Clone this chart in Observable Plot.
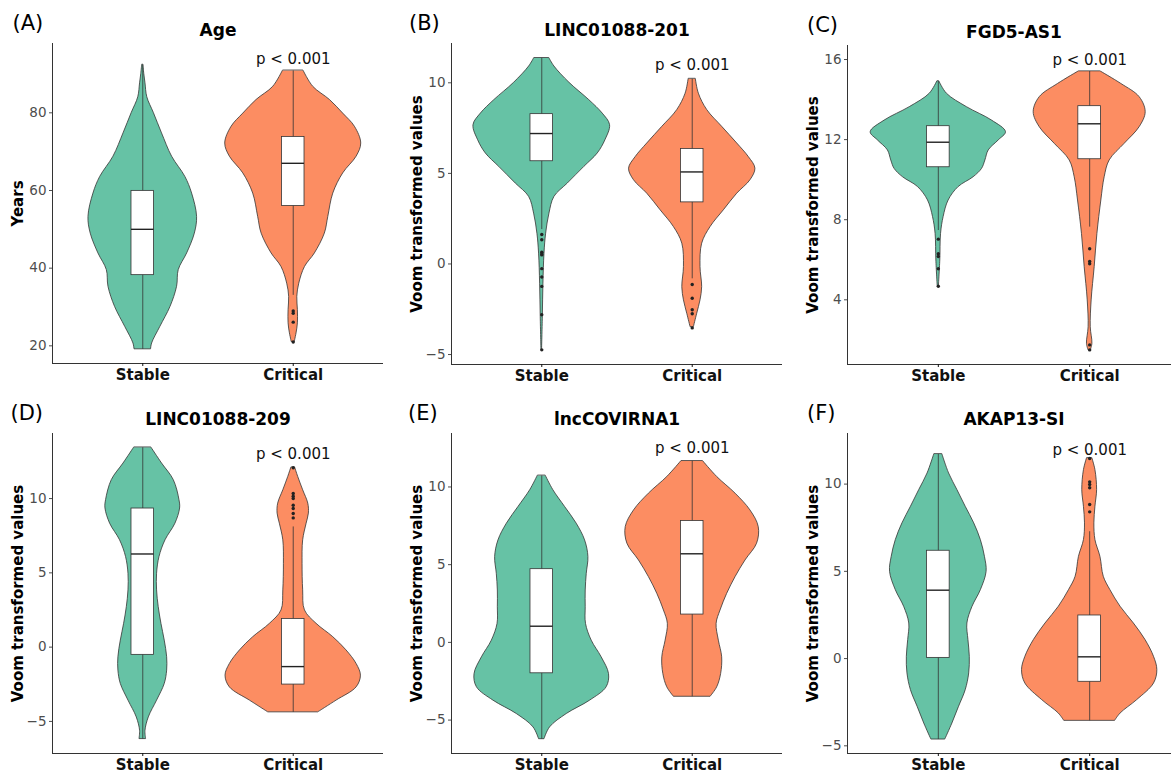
<!DOCTYPE html>
<html><head><meta charset="utf-8">
<script src="https://cdn.jsdelivr.net/npm/d3@7"></script>
<script src="https://cdn.jsdelivr.net/npm/@observablehq/plot@0.6"></script>
<style>
html,body{margin:0;padding:0;background:#fff;overflow:hidden;}
#wrap{position:relative;width:1171px;height:774px;overflow:hidden;background:#fff;}
.panel{position:absolute;}
.panel svg{max-width:none !important;}
</style></head><body><div id="wrap"></div>
<script>
const groups = ["Stable", "Critical"];
const groupColors = ["#66C2A5", "#FC8D62"];
const panelLetters = ["(A)", "(B)", "(C)", "(D)", "(E)", "(F)"];
const panelTitles = ["Age", "LINC01088-201", "FGD5-AS1", "LINC01088-209", "lncCOVIRNA1", "AKAP13-SI"];
const yTitles = ["Years", "Voom transformed values", "Voom transformed values", "Voom transformed values", "Voom transformed values", "Voom transformed values"];
const yTicks = [[20, 40, 60, 80], [-5, 0, 5, 10], [4, 8, 12, 16], [-5, 0, 5, 10], [-5, 0, 5, 10], [-5, 0, 5, 10]];
const yDomains = [[15.45, 97.85], [-5.55, 12.17], [0.77, 16.7], [-7.16, 14.38], [-7.15, 13.44], [-5.44, 12.9]];
const pLabel = "p < 0.001";
const pLabelY = [93.7, 10.98, 15.95, 12.97, 12.47, 11.95];

// Violin profiles: [value, half-width in category units]
const violinA_Stable = [[92.3,0.004],[90,0.01],[87.6,0.018],[84,0.03],[80,0.073],[74.7,0.128],[68.7,0.195],[63.5,0.283],[59.2,0.328],[53.2,0.361],[48.9,0.346],[43.8,0.295],[39.5,0.239],[35.2,0.228],[30,0.184],[24.9,0.117],[20.6,0.062],[19.1,0.055]];
const violinA_Critical = [[90.8,0.069],[86.7,0.133],[83.3,0.244],[79.8,0.332],[76.4,0.41],[72.1,0.452],[68.7,0.421],[64.4,0.332],[59.2,0.266],[53.2,0.233],[48.9,0.21],[43.8,0.144],[40.3,0.078],[36,0.04],[32.6,0.027],[29.2,0.031],[25.8,0.031],[23.2,0.022],[21.5,0.013],[21,0.011]];
const violinB_Stable = [[11.35,0.051],[10.9,0.084],[10,0.184],[9.04,0.316],[8.3,0.405],[7.66,0.454],[6.83,0.423],[6.1,0.372],[5.36,0.283],[4.44,0.173],[3.7,0.084],[2.78,0.051],[1.67,0.029],[0.57,0.018],[-1.09,0.011],[-2.94,0.007],[-4.74,0.002]];
const violinB_Critical = [[10.2,0.024],[9.4,0.044],[8.49,0.1],[7.57,0.199],[6.65,0.299],[5.9,0.376],[5.26,0.42],[4.62,0.387],[3.88,0.299],[2.96,0.21],[2.04,0.122],[1.12,0.066],[-0.17,0.055],[-1.28,0.066],[-2.01,0.055],[-2.75,0.033],[-3.49,0.011]];
const violinC_Stable = [[14.9,0.007],[14.29,0.057],[13.62,0.189],[12.95,0.355],[12.37,0.447],[11.96,0.399],[11.46,0.333],[10.96,0.311],[10.54,0.289],[10.12,0.233],[9.63,0.134],[8.96,0.068],[8.13,0.035],[7.29,0.018],[5.96,0.013],[4.68,0.004]];
const violinC_Critical = [[15.4,0.073],[14.78,0.209],[14.12,0.33],[13.37,0.37],[12.62,0.33],[11.79,0.231],[10.96,0.132],[10.12,0.099],[8.96,0.077],[7.29,0.051],[5.63,0.033],[3.97,0.013],[2.63,0.007],[1.8,0.018],[1.47,0.007]];
const violinD_Stable = [[13.42,0.058],[12.36,0.128],[11.24,0.206],[9.89,0.244],[9.33,0.248],[8.31,0.217],[7.19,0.151],[6.06,0.111],[4.94,0.095],[3.82,0.095],[2.69,0.106],[1.57,0.124],[0.44,0.146],[-0.68,0.162],[-1.58,0.162],[-2.48,0.146],[-3.6,0.095],[-4.73,0.04],[-5.63,0.018],[-6.19,0.022]];
const violinD_Critical = [[12.07,0.013],[11.46,0.033],[10.56,0.066],[9.66,0.1],[8.99,0.104],[8.31,0.089],[7.19,0.066],[5.61,0.062],[3.82,0.066],[2.47,0.078],[1.57,0.155],[0.67,0.266],[-0.22,0.354],[-1.13,0.421],[-1.92,0.45],[-2.71,0.421],[-3.6,0.288],[-4.39,0.166]];
const violinE_Stable = [[10.71,0.027],[9.79,0.077],[8.71,0.155],[7.64,0.232],[6.56,0.288],[5.49,0.31],[4.41,0.299],[3.34,0.292],[2.26,0.292],[1.19,0.294],[0.11,0.332],[-0.96,0.398],[-2.04,0.447],[-2.89,0.431],[-3.75,0.321],[-4.61,0.166],[-5.47,0.055],[-6.23,0.018]];
const violinE_Critical = [[11.65,0.073],[10.64,0.166],[9.57,0.288],[8.49,0.387],[7.42,0.442],[6.35,0.431],[5.27,0.354],[4.2,0.288],[3.12,0.232],[2.05,0.188],[1.19,0.162],[0.11,0.177],[-0.96,0.199],[-2.04,0.192],[-2.89,0.166],[-3.5,0.122]];
const violinF_Stable = [[11.7,0.027],[10.61,0.071],[9.66,0.126],[8.7,0.181],[7.75,0.237],[6.79,0.281],[5.83,0.308],[4.97,0.319],[3.92,0.281],[2.97,0.226],[2.01,0.192],[1.06,0.199],[0.1,0.208],[-0.85,0.204],[-1.81,0.181],[-2.76,0.137],[-3.72,0.093],[-4.64,0.046]];
const violinF_Critical = [[11.47,0.018],[10.8,0.038],[9.66,0.049],[8.7,0.038],[7.75,0.031],[6.79,0.038],[5.83,0.071],[4.69,0.093],[3.92,0.137],[2.97,0.204],[2.01,0.292],[1.06,0.369],[0.1,0.425],[-0.66,0.447],[-1.43,0.425],[-2.38,0.314],[-3.15,0.204],[-3.57,0.168]];

// Box stats: [lower whisker, Q1, median, Q3, upper whisker]
const boxA_Stable = [19.1, 38.2, 50.0, 59.9, 92.3];
const boxA_Critical = [33.0, 56.0, 67.0, 73.8, 90.8];
const boxB_Stable = [1.9, 5.67, 7.2, 8.27, 11.35];
const boxB_Critical = [-0.82, 3.40, 5.08, 6.35, 10.2];
const boxC_Stable = [7.46, 10.62, 11.87, 12.67, 14.9];
const boxC_Critical = [7.63, 11.02, 12.79, 13.67, 15.4];
const boxD_Stable = [-6.19, -0.52, 6.27, 9.33, 13.42];
const boxD_Critical = [-4.39, -2.52, -1.31, 1.9, 8.09];
const boxE_Stable = [-6.23, -1.99, 1.04, 4.71, 10.71];
const boxE_Critical = [-3.5, 1.79, 5.7, 7.81, 11.65];
const boxF_Stable = [-4.64, 0.04, 3.92, 6.18, 11.7];
const boxF_Critical = [-3.57, -1.33, 0.1, 2.47, 7.27];

// Outliers
const outA_Stable = [];
const outA_Critical = [29.0, 28.4, 26.1, 21.0];
const outB_Stable = [1.63, 1.34, 0.65, 0.55, 0.5, -0.26, -0.72, -1.24, -2.8, -4.74];
const outB_Critical = [-1.13, -1.89, -2.53, -2.75, -3.53];
const outC_Stable = [7.03, 6.3, 6.16, 5.55, 4.68];
const outC_Critical = [6.55, 5.91, 5.8, 1.75, 1.5];
const outD_Stable = [];
const outD_Critical = [12.07, 10.34, 10.16, 10.0, 9.55, 9.33, 8.99, 8.7];
const outE_Stable = [];
const outE_Critical = [];
const outF_Stable = [];
const outF_Critical = [11.47, 10.13, 9.98, 9.79, 8.83, 8.41];

const violins = [[violinA_Stable, violinA_Critical],[violinB_Stable, violinB_Critical],[violinC_Stable, violinC_Critical],[violinD_Stable, violinD_Critical],[violinE_Stable, violinE_Critical],[violinF_Stable, violinF_Critical]];
const boxes = [[boxA_Stable, boxA_Critical],[boxB_Stable, boxB_Critical],[boxC_Stable, boxC_Critical],[boxD_Stable, boxD_Critical],[boxE_Stable, boxE_Critical],[boxF_Stable, boxF_Critical]];
const outliers = [[outA_Stable, outA_Critical],[outB_Stable, outB_Critical],[outC_Stable, outC_Critical],[outD_Stable, outD_Critical],[outE_Stable, outE_Critical],[outF_Stable, outF_Critical]];

// Panel placement
const layout = [
  {left: 0,   top: 0,   width: 390, height: 390, mt: 43, mb: 27, ml: 52, mr: 7},
  {left: 390, top: 0,   width: 392, height: 390, mt: 43, mb: 26, ml: 61, mr: 0},
  {left: 780, top: 0,   width: 400, height: 390, mt: 45, mb: 26, ml: 67, mr: 0},
  {left: 0,   top: 390, width: 390, height: 384, mt: 43, mb: 21, ml: 52, mr: 7},
  {left: 390, top: 390, width: 392, height: 384, mt: 43, mb: 21, ml: 61, mr: 0},
  {left: 780, top: 390, width: 400, height: 384, mt: 43, mb: 21, ml: 67, mr: 0}
];
const letterDx = [-40, -42.5, -40.5, -42, -43.5, -40.5];
const boxHalf = 0.075;

const wrap = document.getElementById("wrap");
for (let i = 0; i < 6; i++) {
  const L = layout[i];
  const marks = [];
  for (let g = 0; g < 2; g++) {
    const c = g + 1;
    const rows = violins[i][g].map(([v, hw]) => ({y: v, x1: c - hw, x2: c + hw}));
    marks.push(Plot.areaX(rows, {y: "y", x1: "x1", x2: "x2", fill: groupColors[g], stroke: "#333333", strokeWidth: 0.8, curve: "catmull-rom"}));
  }
  const bx = boxes[i].map((b, g) => ({x: g + 1, lo: b[0], q1: b[1], med: b[2], q3: b[3], hi: b[4]}));
  marks.push(Plot.ruleX(bx, {x: "x", y1: "lo", y2: "hi", stroke: "#333333", strokeWidth: 0.8}));
  marks.push(Plot.rect(bx, {x1: d => d.x - boxHalf, x2: d => d.x + boxHalf, y1: "q1", y2: "q3", fill: "white", stroke: "#333333", strokeWidth: 0.8}));
  marks.push(Plot.ruleY(bx, {y: "med", x1: d => d.x - boxHalf, x2: d => d.x + boxHalf, stroke: "#222222", strokeWidth: 1.4}));
  const pts = [];
  outliers[i].forEach((arr, g) => arr.forEach(v => pts.push({x: g + 1, y: v})));
  marks.push(Plot.dot(pts, {x: "x", y: "y", r: 1.7, fill: "#222222", stroke: null}));
  // axis lines
  marks.push(Plot.ruleX([0.4], {stroke: "#333333", strokeWidth: 1}));
  marks.push(Plot.ruleY([yDomains[i][0]], {stroke: "#333333", strokeWidth: 1}));
  marks.push(Plot.axisY(yTicks[i], {tickSize: 3, tickPadding: 3, fontSize: 13.5, color: "#4d4d4d", label: null}));
  marks.push(Plot.axisX([1, 2], {tickSize: 3, tickPadding: 3, tickFormat: d => groups[d - 1], fontSize: 15, fontWeight: "bold", color: "#111111", label: null}));
  // texts
  marks.push(Plot.text([pLabel], {x: 2, y: pLabelY[i], text: d => d, fontSize: 15, fill: "#111111"}));
  marks.push(Plot.text([panelTitles[i]], {frameAnchor: "top", lineAnchor: "middle", dy: i < 3 ? -12.5 : -14, text: d => d, fontSize: 17, fontWeight: "bold", fill: "#000"}));
  marks.push(Plot.text([panelLetters[i]], {frameAnchor: "top-left", textAnchor: "start", lineAnchor: "middle", dx: letterDx[i], dy: -20, text: d => d, fontSize: 21, fill: "#000"}));
  marks.push(Plot.text([yTitles[i]], {frameAnchor: "left", textAnchor: "middle", lineAnchor: "middle", rotate: -90, dx: -34, text: d => d, fontSize: 15, fontWeight: "bold", fill: "#000"}));

  const chart = Plot.plot({
    width: L.width, height: L.height,
    marginTop: L.mt, marginBottom: L.mb, marginLeft: L.ml, marginRight: L.mr,
    x: {domain: [0.4, 2.6]},
    y: {domain: yDomains[i]},
    style: {fontFamily: "DejaVu Sans", background: "transparent", overflow: "visible", maxWidth: "none"},
    marks
  });
  const div = document.createElement("div");
  div.className = "panel";
  div.style.left = L.left + "px";
  div.style.top = L.top + "px";
  div.style.width = L.width + "px";
  div.style.height = L.height + "px";
  div.appendChild(chart);
  wrap.appendChild(div);
}
</script></body></html>
